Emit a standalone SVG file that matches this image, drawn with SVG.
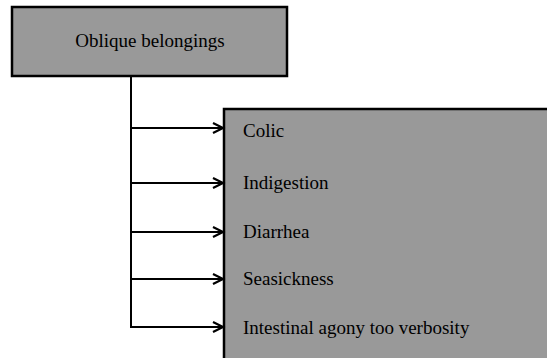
<svg xmlns="http://www.w3.org/2000/svg" width="547" height="358" viewBox="0 0 547 358">
<style>
.box{fill:#999999;stroke:#000;stroke-width:2.5}
.t{font-family:'Liberation Serif','DejaVu Serif',serif;font-size:19px;fill:#000}
.c{fill:none;stroke:#000;stroke-width:2}
</style>
<defs>
<marker id="ah" markerWidth="14" markerHeight="12" refX="11" refY="6" orient="auto" markerUnits="userSpaceOnUse">
<path d="M1,1 L11,6 L1,11" fill="none" stroke="#000" stroke-width="2.2"/>
</marker>
</defs>
<g id="root">
<rect class="box" x="12" y="7" width="275" height="69"/>
<text class="t" x="150" y="47" text-anchor="middle">Oblique belongings</text>
</g>
<g id="list">
<rect class="box" x="224" y="109" width="340" height="270"/>
<text class="t" x="243" y="137">Colic</text>
<text class="t" x="243" y="189">Indigestion</text>
<text class="t" x="243" y="238">Diarrhea</text>
<text class="t" x="243" y="285">Seasickness</text>
<text class="t" x="243" y="334">Intestinal agony too verbosity</text>
</g>
<g id="connectors">
<path class="c" d="M131,76 V328"/>
<path class="c" d="M130,128 H223" marker-end="url(#ah)"/>
<path class="c" d="M130,183 H223" marker-end="url(#ah)"/>
<path class="c" d="M130,232 H223" marker-end="url(#ah)"/>
<path class="c" d="M130,279 H223" marker-end="url(#ah)"/>
<path class="c" d="M130,327 H223" marker-end="url(#ah)"/>
</g>
</svg>
